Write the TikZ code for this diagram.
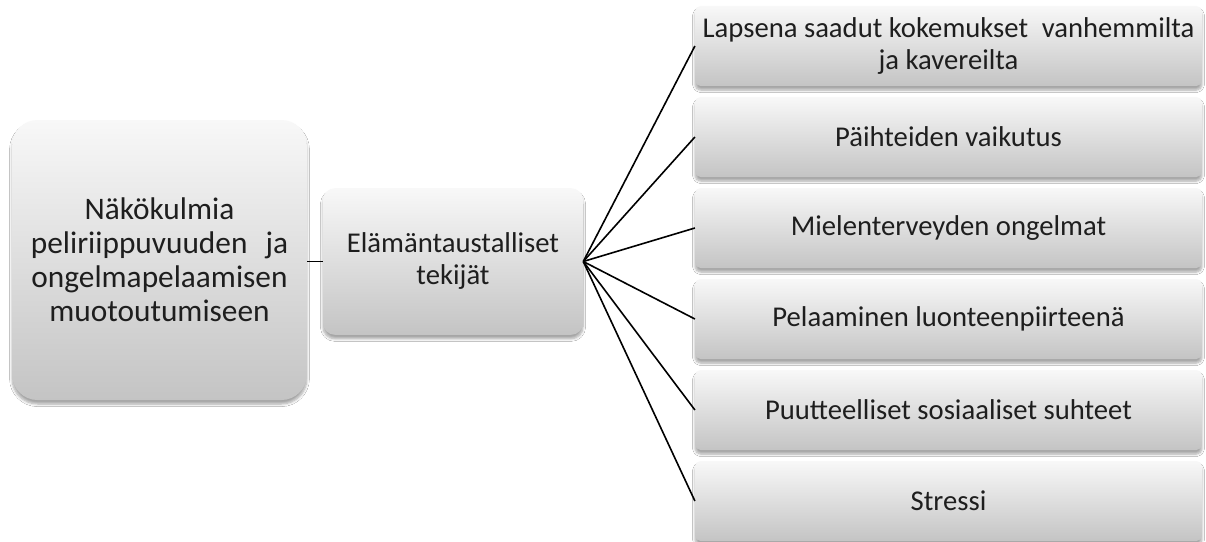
\documentclass[tikz,border=0pt]{standalone}
\usepackage{fontspec}
\setmainfont{Carlito}
\usetikzlibrary{shadows.blur}
\definecolor{boxtop}{RGB}{248,248,248}
\definecolor{boxbot}{RGB}{196,196,196}
\definecolor{ink}{RGB}{30,30,30}
\tikzset{
  greybox/.style={draw=none, top color=boxtop, bottom color=boxbot,
    text=ink, align=center, inner sep=2pt,
    blur shadow={shadow xshift=0pt, shadow yshift=-3pt, shadow blur steps=6, shadow opacity=35}},
  rootbox/.style={greybox, rounded corners=19pt, minimum width=221pt, minimum height=210pt,
    font=\fontsize{23.5}{25.5}\selectfont},
  midbox/.style={greybox, rounded corners=9pt, minimum width=195pt, minimum height=110pt,
    font=\fontsize{21.5}{24}\selectfont},
  leafbox/.style={greybox, rounded corners=4pt, minimum width=380pt, minimum height=60pt,
    font=\fontsize{21.5}{24}\selectfont},
  link/.style={draw=black, line width=1.2pt}
}
\begin{document}
\begin{tikzpicture}[x=0.75pt,y=-0.75pt]
  \useasboundingbox (0,0) rectangle (1206,542);
  \fill[white] (0,0) rectangle (1206,542);

  \node[rootbox] (root) at (159.5,260) {Näkökulmia\\peliriippuvuuden\hspace{0.35em} ja\\ongelmapelaamisen\\muotoutumiseen};
  \node[midbox] (mid) at (453,261.5) {Elämäntaustalliset\\tekijät};

  \node[leafbox] (l1) at (948.5,46)  {Lapsena saadut kokemukset\hspace{0.25em} vanhemmilta\\ja kavereilta};
  \node[leafbox] (l2) at (948.5,137) {Päihteiden vaikutus};
  \node[leafbox] (l3) at (948.5,228) {Mielenterveyden ongelmat};
  \node[leafbox] (l4) at (948.5,319) {Pelaaminen luonteenpiirteenä};
  \node[leafbox] (l5) at (948.5,410) {Puutteelliset sosiaaliset suhteet};
  \node[leafbox] (l6) at (948.5,501) {Stressi};

  \draw[link] (root.east |- mid.west) -- (mid.west);
  \foreach \n in {l1,l2,l3,l4,l5,l6}
    \draw[link] (mid.east) -- (\n.west);
\end{tikzpicture}
\end{document}
